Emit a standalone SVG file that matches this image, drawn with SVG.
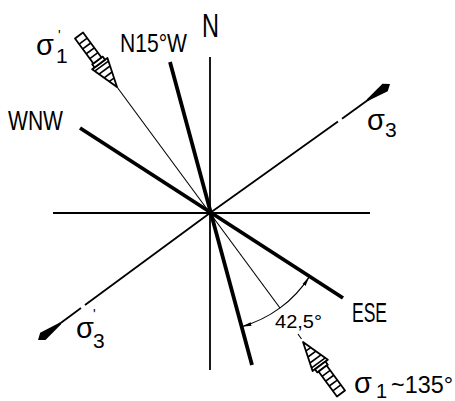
<svg xmlns="http://www.w3.org/2000/svg" width="455" height="401" viewBox="0 0 455 401">
<style>
.ax{stroke:#000;stroke-width:1.8;fill:none}
.thick{stroke:#000;stroke-width:3.8;fill:none}
.thin{stroke:#000;stroke-width:1.1;fill:none}
.lbl{font-family:"Liberation Sans",Arial,sans-serif;fill:#000}
.hat{stroke:#000;stroke-width:1.8;fill:#fff;stroke-linejoin:round}
.hl{stroke:#000;stroke-width:1.6}
</style>
<defs>
<marker id="arc-ah" viewBox="0 0 10 6" refX="10" refY="3" markerWidth="10" markerHeight="6" markerUnits="userSpaceOnUse" orient="auto-start-reverse">
<path d="M0,1.2 L10,3 L0,4.8 Z" fill="#000"/>
</marker>
<g id="hatched-arrow">
<polygon class="hat" points="0,0 29,-9.5 29,9.5"/>
<polygon class="hat" points="29,-6.5 33,-6.5 33,6.5 29,6.5"/>
<polygon class="hat" points="33,-5 64,-5 64,5 33,5"/>
<line class="hl" x1="9" y1="-2.9" x2="9" y2="2.9"/>
<line class="hl" x1="15" y1="-4.9" x2="15" y2="4.9"/>
<line class="hl" x1="21" y1="-6.9" x2="21" y2="6.9"/>
<line class="hl" x1="26" y1="-8.5" x2="26" y2="8.5"/>
<line class="hl" x1="39" y1="-5" x2="39" y2="5"/>
<line class="hl" x1="45" y1="-5" x2="45" y2="5"/>
<line class="hl" x1="51" y1="-5" x2="51" y2="5"/>
<line class="hl" x1="57" y1="-5" x2="57" y2="5"/>
</g>
<path id="bold-ah" d="M0,0 L-6,-4.5 L-28,-1 L-28,1 L-6,4.5 Z" fill="#000"/>
</defs>

<g id="connectors">
<line class="ax" x1="210" y1="57" x2="210" y2="370"/>
<line class="ax" x1="53" y1="213" x2="370" y2="213"/>
<line class="thick" x1="170" y1="62" x2="252" y2="365"/>
<line class="thick" x1="80" y1="128" x2="343" y2="298"/>
<line class="thin" x1="117" y1="87" x2="280" y2="308"/>
<line class="thin" x1="298" y1="334" x2="301.5" y2="339"/>
<line class="ax" x1="210" y1="213" x2="338" y2="121.5"/>
<line class="ax" x1="342" y1="118.7" x2="370" y2="98.6"/>
<use href="#bold-ah" transform="translate(390,84) rotate(-35.6)"/>
<line class="ax" x1="210" y1="213" x2="85" y2="305"/>
<line class="ax" x1="81" y1="308" x2="58" y2="325"/>
<use href="#bold-ah" transform="translate(38,340) rotate(143.6)"/>
<path class="thin" d="M309.4,276.6 A118,118 0 0 1 241.5,326.7" stroke-width="1.5" marker-start="url(#arc-ah)" marker-end="url(#arc-ah)"/>
</g>

<g id="sigma1-prime-arrow">
<use href="#hatched-arrow" transform="translate(117,87) rotate(-126.4)"/>
</g>
<g id="sigma1-arrow">
<use href="#hatched-arrow" transform="translate(303,342) rotate(53.6)"/>
</g>

<g id="label-N"><text class="lbl" x="202" y="37" font-size="33" textLength="17" lengthAdjust="spacingAndGlyphs">N</text></g>
<g id="label-N15W"><text class="lbl" x="120" y="52" font-size="25" textLength="67" lengthAdjust="spacingAndGlyphs">N15°W</text></g>
<g id="label-WNW"><text class="lbl" x="8" y="130" font-size="28" textLength="55" lengthAdjust="spacingAndGlyphs">WNW</text></g>
<g id="label-ESE"><text class="lbl" x="352" y="322" font-size="28" textLength="35" lengthAdjust="spacingAndGlyphs">ESE</text></g>
<g id="label-angle"><text class="lbl" x="275" y="328" font-size="18" textLength="47" lengthAdjust="spacingAndGlyphs">42,5°</text></g>

<g id="label-sigma1p">
<text class="lbl" x="36" y="55" font-size="29">σ</text>
<text class="lbl" x="56" y="63" font-size="21">1</text>
<text class="lbl" x="58" y="40" font-size="14">'</text>
</g>
<g id="label-sigma3">
<text class="lbl" x="367" y="130" font-size="29">σ</text>
<text class="lbl" x="385" y="137" font-size="21">3</text>
</g>
<g id="label-sigma3p">
<text class="lbl" x="76" y="338" font-size="29">σ</text>
<text class="lbl" x="93" y="348" font-size="21">3</text>
<text class="lbl" x="93" y="319" font-size="14">'</text>
</g>
<g id="label-sigma1">
<text class="lbl" x="354" y="393" font-size="29">σ</text>
<text class="lbl" x="376" y="398" font-size="20">1</text>
<text class="lbl" x="391" y="393" font-size="24" textLength="62" lengthAdjust="spacingAndGlyphs">~135°</text>
</g>
</svg>
